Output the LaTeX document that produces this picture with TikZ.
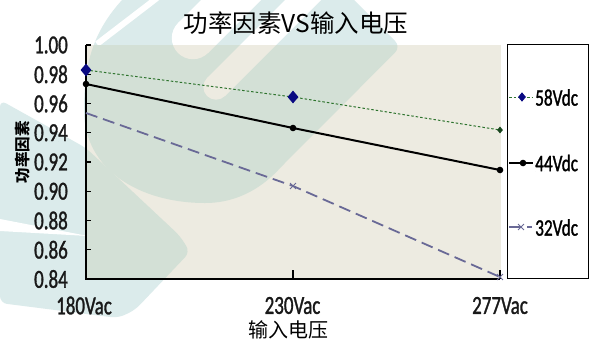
\documentclass[tikz,border=0pt]{standalone}
\usepackage{fontspec}
\newfontfamily\latfont[FakeStretch=0.73,FakeBold=1.2]{Carlito}
\newfontfamily\cjkfont{Noto Sans CJK SC}
\usetikzlibrary{shapes.geometric,shapes.misc}
\definecolor{wmout}{RGB}{219,235,235}
\definecolor{wmin}{RGB}{211,224,214}
\definecolor{plotbg}{RGB}{237,235,225}
\definecolor{ser58}{RGB}{45,115,45}
\definecolor{mk58}{RGB}{10,10,130}
\definecolor{mk58c}{RGB}{25,70,30}
\definecolor{ser32}{RGB}{105,105,150}
\newcommand\wmbody[1]{%
  \fill[#1] (122,0) .. controls (95,30) and (84,60) .. (84,110)
     .. controls (84,170) and (140,203) .. (205,203)
     .. controls (240,203) and (265,185) .. (281,167)
     [rounded corners=8] -- (400.8,46.8) -- (337.5,-16.5) -- (322,-200) [sharp corners] -- cycle;
  \fill[#1,rounded corners=7] (0,100) -- (86,148) -- (180,236) -- (190,252) -- (135,310) -- (118,318) -- (0,303) -- cycle;
}
\newcommand\wmholes[1]{%
  \fill[#1] (193,38) circle[radius=21.2];
  \fill[#1] (178,23) -- (478,-277) -- (508,-247) -- (208,53) -- cycle;
  \fill[#1] (216,87) circle[radius=12.7];
  \fill[#1] (207,78) -- (507,-222) -- (525,-204) -- (225,96) -- cycle;
}
\tikzset{
  ticklab/.style={font=\latfont\fontsize{26bp}{26bp}\selectfont, text=black!90, inner sep=0pt},
  leglab/.style={font=\latfont\fontsize{23.6bp}{23.6bp}\selectfont, text=black, inner sep=0pt, anchor=west},
  axisline/.style={line width=1.5bp, black},
  tickline/.style={line width=1.2bp, black},
  line58/.style={ser58, line width=1bp, dash pattern=on 2.5bp off 2bp},
  line44/.style={black, line width=2bp},
  line32/.style={ser32, line width=1.8bp, dash pattern=on 12bp off 6bp},
  dmdbig/.style={diamond, fill=mk58, draw=none, minimum width=11bp, minimum height=13bp, inner sep=0pt},
  dmdsmall/.style={diamond, fill=mk58c, draw=none, minimum width=6bp, minimum height=7bp, inner sep=0pt},
  dmdleg/.style={diamond, fill=mk58, draw=none, minimum width=8bp, minimum height=9.5bp, inner sep=0pt},
  dot44/.style={circle, fill=black, draw=none, minimum size=6.6bp, inner sep=0pt},
  xmark32/.style={cross out, draw=ser32, line width=0.9bp, minimum size=5bp, inner sep=0pt},
}
\begin{document}
\begin{tikzpicture}[x=1bp,y=-1bp]
\useasboundingbox (0,0) rectangle (595,346);
\fill[white] (0,0) rectangle (595,346);
% watermark outside the plot
\wmbody{wmout}
\wmholes{white}
\draw[white, line width=6bp] (157,-2) -- (97,44);
\fill[white] (0,219) -- (88,236) -- (0,231) -- cycle;
% plot area
\fill[plotbg] (86,45) rectangle (501,279);
\begin{scope}
  \clip (86,45) rectangle (501,279);
  \wmbody{wmin}
  \wmholes{plotbg}
\end{scope}
% axes
\coordinate (o) at (86,279);
\coordinate (ytop) at (86,45);
\coordinate (xend) at (500,279);
\draw[axisline] (ytop) -- (o) -- (xend);
\foreach \v/\lab [count=\i] in {45/1.00,74.25/0.98,103.5/0.96,132.75/0.94,162/0.92,191.25/0.90,220.5/0.88,249.75/0.86,279/0.84}{
  \coordinate (yt\i) at (86,\v);
  \coordinate (ytb\i) at (91,\v);
  \draw[tickline] (yt\i) -- (ytb\i);
  \node[ticklab, anchor=east] (ylab\i) at (68,\v) {\lab};
}
\coordinate (xt2) at (293,279); \coordinate (xt2b) at (293,270);
\coordinate (xt3) at (500,279); \coordinate (xt3b) at (500,270);
\draw[tickline] (xt2) -- (xt2b);
\draw[tickline] (xt3) -- (xt3b);
\node[ticklab] (xlab1) at (84,305.5) {180Vac};
\node[ticklab] (xlab2) at (292.5,305.5) {230Vac};
\node[ticklab] (xlab3) at (500,305.5) {277Vac};
% data coordinates
\coordinate (c58a) at (86,70);  \coordinate (c58b) at (293,97);  \coordinate (c58c) at (500,130);
\coordinate (c44a) at (86,84);  \coordinate (c44b) at (293,128); \coordinate (c44c) at (500,170);
\coordinate (c32a) at (86,113); \coordinate (c32b) at (293,186); \coordinate (c32c) at (500,277);
\draw[line32] (c32a) -- (c32b) -- (c32c);
\draw[line58] (c58a) -- (c58b) -- (c58c);
\draw[line44] (c44a) -- (c44b) -- (c44c);
\node[xmark32] (m32b) at (c32b) {};
\node[xmark32] (m32c) at (c32c) {};
\node[dot44] (m44a) at (c44a) {};
\node[dot44] (m44b) at (c44b) {};
\node[dot44] (m44c) at (c44c) {};
\node[dmdbig] (m58a) at (c58a) {};
\node[dmdbig] (m58b) at (c58b) {};
\node[dmdsmall] (m58c) at (c58c) {};
% legend
\node[draw=black, line width=0.8bp, fill=white, minimum width=81bp, minimum height=234bp, inner sep=0pt, anchor=north west] (legbox) at (507,44) {};
\coordinate (l58a) at (509,97);  \coordinate (l58b) at (533,97);
\coordinate (l44a) at (509,163); \coordinate (l44b) at (533,163);
\coordinate (l32a) at (509,227); \coordinate (l32b) at (532,227);
\draw[line58] (l58a) -- (l58b);
\draw[line44] (l44a) -- (l44b);
\draw[line32] (l32a) -- (l32b);
\node[dmdleg] (lm58) at (522,97) {};
\node[dot44] (lm44) at (523,163) {};
\node[xmark32] (lm32) at (521,227) {};
\node[leglab] (lt58) at (535,97.5) {58Vdc};
\node[leglab] (lt44) at (535,163) {44Vdc};
\node[leglab] (lt32) at (535,227.5) {32Vdc};
% titles
\node[font=\cjkfont\fontsize{24.5bp}{24.5bp}\selectfont, inner sep=0pt] (title) at (296,23) {功率因素VS输入电压};
\node[font=\cjkfont\fontsize{20bp}{20bp}\selectfont, inner sep=0pt] (xtitle) at (288,330) {输入电压};
\node[font=\cjkfont\bfseries\fontsize{15.5bp}{15.5bp}\selectfont, inner sep=0pt, rotate=90] (ytitle) at (23,152) {功率因素};
\end{tikzpicture}
\end{document}
